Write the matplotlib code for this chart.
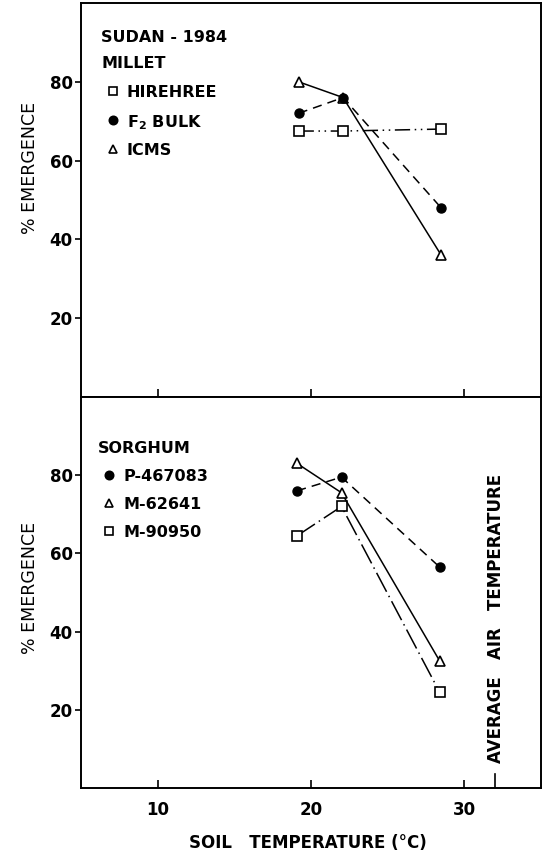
import numpy as np
import matplotlib.pyplot as plt

plt.rcParams['font.family'] = ['DejaVu Sans']
plt.rcParams['font.weight'] = 'bold'

# Millet (upper panel)
millet_temp = [19.2, 22.1, 28.5]
hirehree = [67.5, 67.5, 68.0]
f2_bulk = [72.0, 76.0, 48.0]
icms = [80.0, 76.0, 36.0]

# Sorghum (lower panel)
sorghum_temp = [19.1, 22.0, 28.4]
p467083 = [76.0, 79.5, 56.5]
m62641 = [83.0, 75.5, 32.5]
m90950 = [64.5, 72.0, 24.5]

air_temp = 32
yticks = [20, 40, 60, 80]
xticks = [10, 20, 30]

fig = plt.figure(figsize=(5.43, 8.57), dpi=100)
ax1 = fig.add_axes([0.149, 0.5368, 0.847, 0.4597])
ax2 = fig.add_axes([0.149, 0.0805, 0.847, 0.4563])

fs = 11.5
mk = dict(color='black', markersize=6.5, linewidth=1.1)
ax1.plot(millet_temp, hirehree, marker='s', mfc='white', mew=1.2,
         linestyle=(0, (10, 3, 1, 3, 1, 3)), **mk)
ax1.plot(millet_temp, icms, marker='^', mfc='white', mew=1.2, linestyle='-', **mk)
ax1.plot(millet_temp, f2_bulk, marker='o', linestyle=(0, (6, 4)), **mk)

ax2.plot(sorghum_temp, m90950, marker='s', mfc='white', mew=1.2,
         linestyle=(0, (14, 3, 1, 3)), **mk)
ax2.plot(sorghum_temp, m62641, marker='^', mfc='white', mew=1.2, linestyle='-', **mk)
ax2.plot(sorghum_temp, p467083, marker='o', linestyle=(0, (6, 4)), **mk)

for ax in (ax1, ax2):
    ax.set_xlim(5, 35)
    ax.set_ylim(0, 100)
    ax.set_yticks(yticks)
    ax.set_xticks(xticks)
    ax.tick_params(axis='y', direction='out', length=4, width=1.2, labelsize=12, pad=2)
    ax.tick_params(axis='x', direction='in', length=6, width=1.2, labelsize=12, pad=9)
    for s in ax.spines.values():
        s.set_linewidth(1.4)

ax1.tick_params(axis='x', labelbottom=False)

# average air temperature marker
ax2.plot([air_temp, air_temp], [0, 3.5], color='black', linewidth=1.2)
ax2.text(air_temp + 0.1, 43.3, 'AVERAGE   AIR   TEMPERATURE', rotation=90, ha='center',
         va='center', fontsize=12)

# legend-like labels, upper
ax1.text(6.34, 91.7, 'SUDAN - 1984', fontsize=fs, va='center_baseline')
ax1.text(6.34, 85.1, 'MILLET', fontsize=fs, va='center_baseline')
leg1 = [('s', 'white', 'HIREHREE', 77.6), ('o', 'black', 'F$_\\mathbf{2}$ BULK', 70.2),
        ('^', 'white', 'ICMS', 62.9)]
for m, fc, lab, y in leg1:
    ax1.plot([7.1], [y], marker=m, mfc=fc, color='black', markersize=6, mew=1.2)
    ax1.text(8.0, y, lab, fontsize=fs, va='center_baseline')

# legend-like labels, lower
ax2.text(6.1, 87.3, 'SORGHUM', fontsize=fs, va='center_baseline')
leg2 = [('o', 'black', 'P-467083', 80.0), ('^', 'white', 'M-62641', 72.8),
        ('s', 'white', 'M-90950', 65.7)]
for m, fc, lab, y in leg2:
    ax2.plot([6.84], [y], marker=m, mfc=fc, color='black', markersize=6, mew=1.2)
    ax2.text(7.75, y, lab, fontsize=fs, va='center_baseline')

lab_font = dict(fontsize=12.5, weight='normal')
fig.text(0.055, 1 - 168 / 857, '% EMERGENCE', rotation=90, ha='center', va='center', **lab_font)
fig.text(0.055, 1 - 588 / 857, '% EMERGENCE', rotation=90, ha='center', va='center', **lab_font)
fig.text(308 / 543, 1 - 843 / 857, 'SOIL   TEMPERATURE (°C)', ha='center', va='center',
         fontsize=12)

fig.savefig('out.png', dpi=100)
